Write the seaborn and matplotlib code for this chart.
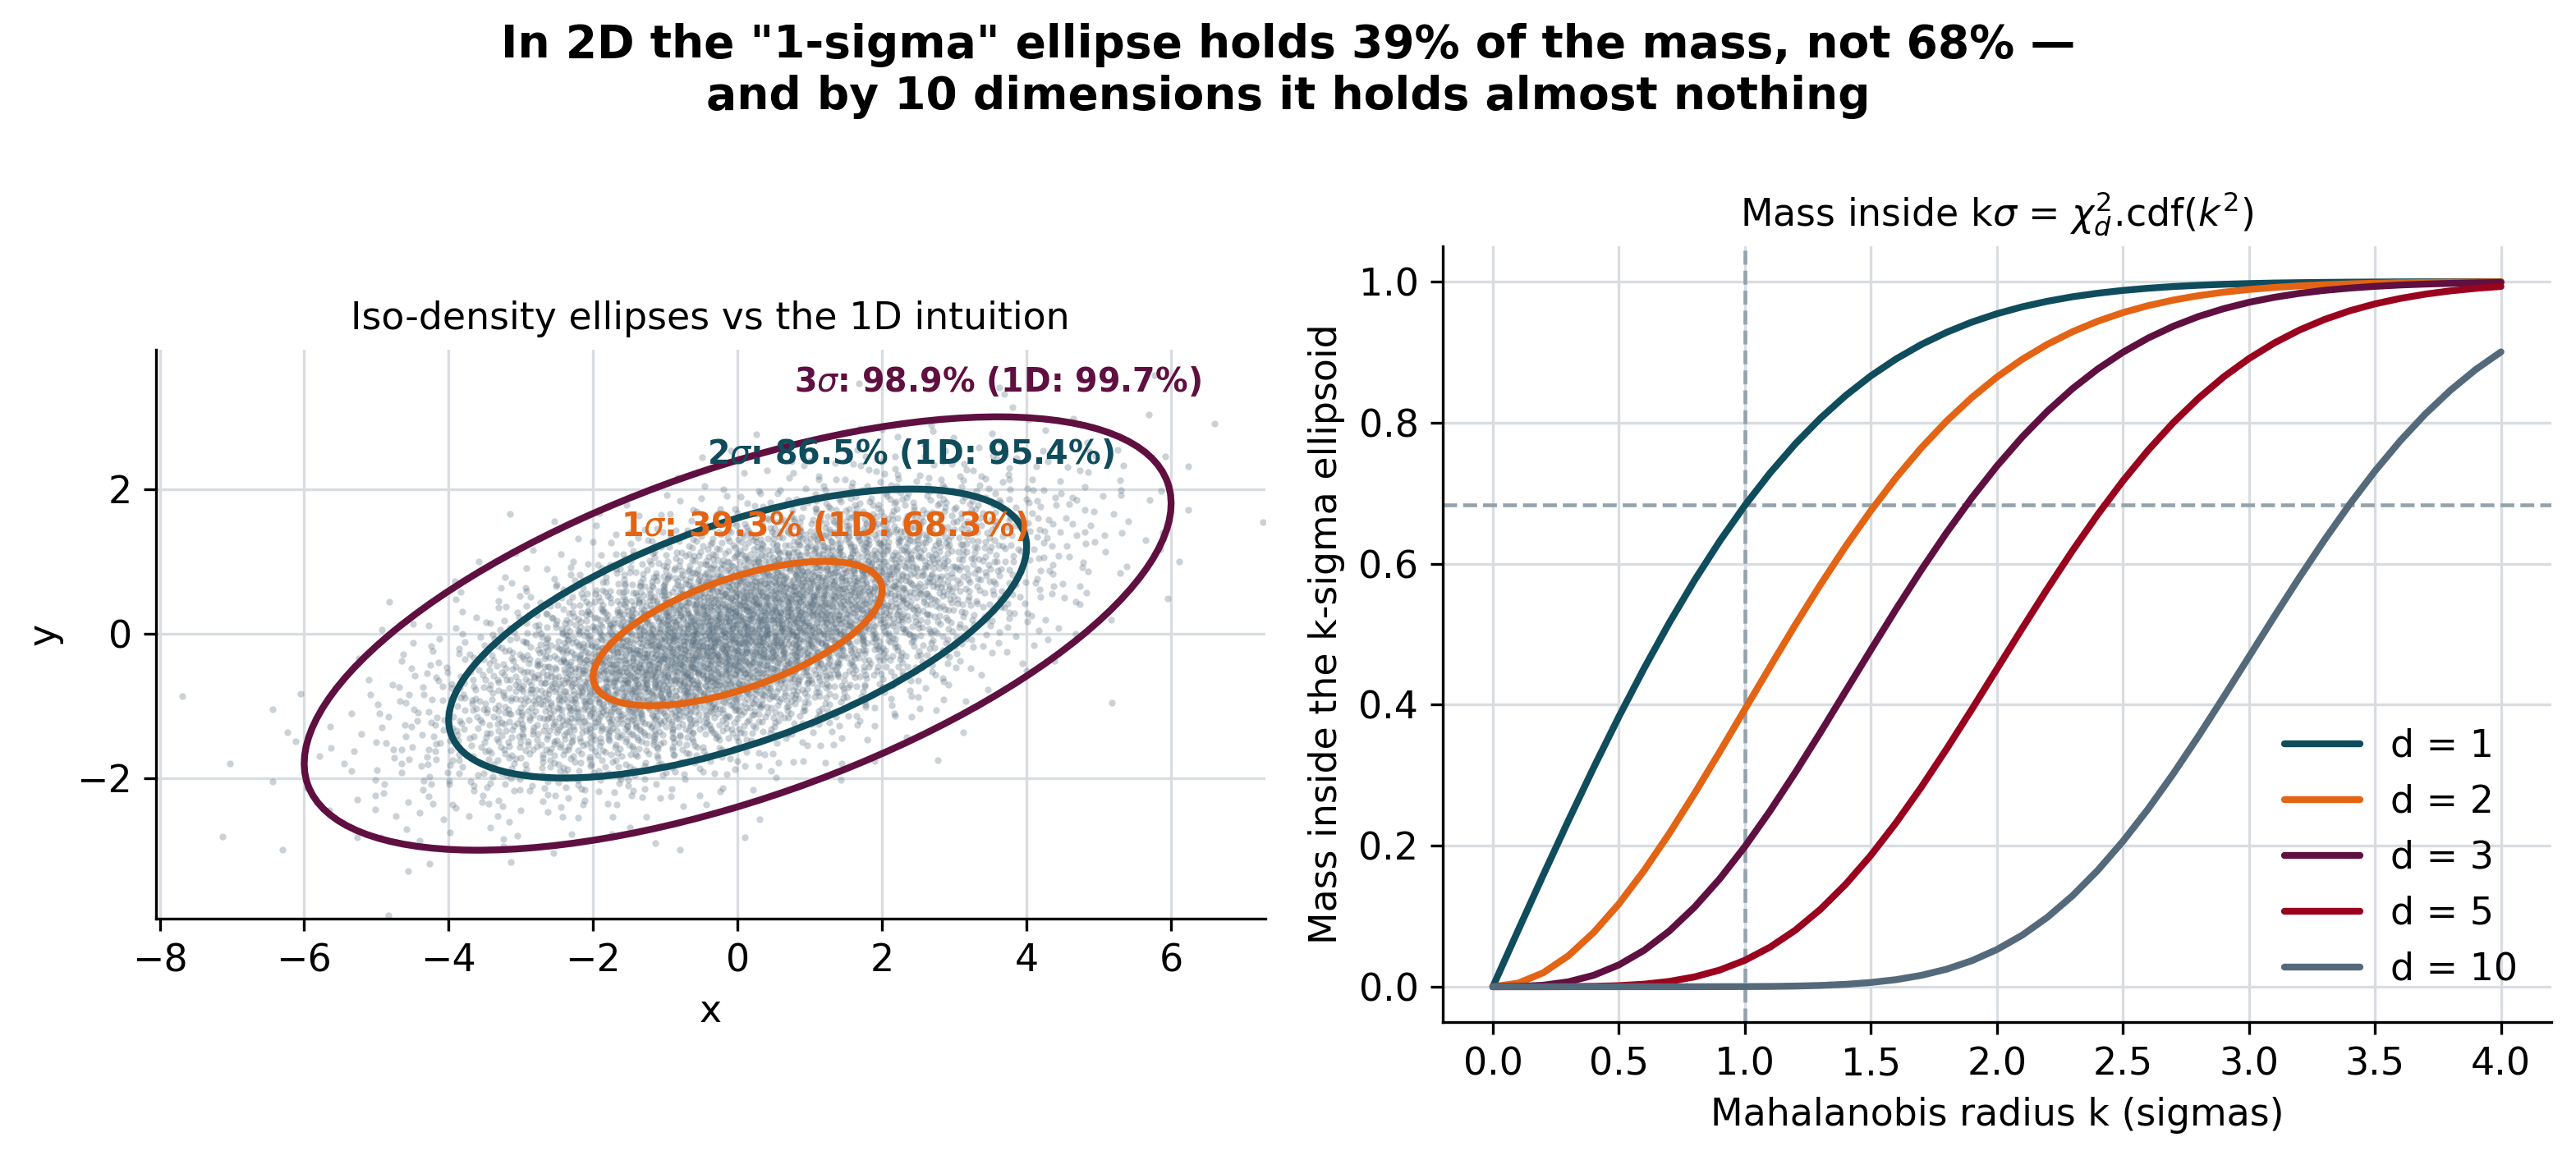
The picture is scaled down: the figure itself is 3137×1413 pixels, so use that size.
import numpy as np
import pandas as pd
import matplotlib
matplotlib.use("Agg")
import matplotlib.pyplot as plt
import seaborn as sns
from matplotlib.patches import Ellipse

# ---------------- data ----------------
K_SIGMAS = [0.0, 0.1, 0.2, 0.3, 0.4, 0.5, 0.6, 0.7, 0.8, 0.9,
            1.0, 1.1, 1.2, 1.3, 1.4, 1.5, 1.6, 1.7, 1.8, 1.9,
            2.0, 2.1, 2.2, 2.3, 2.4, 2.5, 2.6, 2.7, 2.8, 2.9,
            3.0, 3.1, 3.2, 3.3, 3.4, 3.5, 3.6, 3.7, 3.8, 3.9, 4.0]

MASS_D1 = [0.0000, 0.0797, 0.1585, 0.2358, 0.3108, 0.3829, 0.4515, 0.5161, 0.5763, 0.6319,
           0.6827, 0.7287, 0.7699, 0.8064, 0.8385, 0.8664, 0.8904, 0.9109, 0.9281, 0.9426,
           0.9545, 0.9643, 0.9722, 0.9786, 0.9836, 0.9876, 0.9907, 0.9931, 0.9949, 0.9963,
           0.9973, 0.9981, 0.9986, 0.9990, 0.9993, 0.9995, 0.9997, 0.9998, 0.9999, 0.9999, 0.9999]
MASS_D2 = [0.0000, 0.0050, 0.0198, 0.0440, 0.0769, 0.1175, 0.1647, 0.2173, 0.2739, 0.3330,
           0.3935, 0.4539, 0.5133, 0.5704, 0.6247, 0.6753, 0.7220, 0.7643, 0.8021, 0.8355,
           0.8647, 0.8898, 0.9111, 0.9290, 0.9439, 0.9561, 0.9660, 0.9739, 0.9802, 0.9851,
           0.9889, 0.9918, 0.9940, 0.9957, 0.9969, 0.9978, 0.9985, 0.9989, 0.9993, 0.9995, 0.9997]
MASS_D3 = [0.0000, 0.0003, 0.0021, 0.0070, 0.0162, 0.0309, 0.0516, 0.0789, 0.1128, 0.1529,
           0.1987, 0.2494, 0.3038, 0.3608, 0.4193, 0.4778, 0.5355, 0.5911, 0.6439, 0.6932,
           0.7385, 0.7795, 0.8161, 0.8483, 0.8761, 0.8999, 0.9200, 0.9368, 0.9506, 0.9617,
           0.9707, 0.9778, 0.9834, 0.9877, 0.9909, 0.9934, 0.9953, 0.9966, 0.9976, 0.9984, 0.9989]
MASS_D5 = [0.0000, 0.0000, 0.0000, 0.0001, 0.0005, 0.0015, 0.0036, 0.0075, 0.0139, 0.0236,
           0.0374, 0.0561, 0.0801, 0.1098, 0.1453, 0.1864, 0.2326, 0.2831, 0.3370, 0.3932,
           0.4506, 0.5080, 0.5643, 0.6185, 0.6697, 0.7174, 0.7609, 0.8001, 0.8347, 0.8650,
           0.8909, 0.9129, 0.9313, 0.9464, 0.9587, 0.9685, 0.9762, 0.9823, 0.9870, 0.9905, 0.9932]
MASS_D10 = [0.0000, 0.0000, 0.0000, 0.0000, 0.0000, 0.0000, 0.0000, 0.0000, 0.0000, 0.0001,
            0.0002, 0.0004, 0.0009, 0.0018, 0.0034, 0.0060, 0.0100, 0.0161, 0.0248, 0.0368,
            0.0527, 0.0730, 0.0984, 0.1290, 0.1650, 0.2062, 0.2521, 0.3022, 0.3555, 0.4111,
            0.4679, 0.5247, 0.5803, 0.6338, 0.6844, 0.7313, 0.7741, 0.8124, 0.8461, 0.8754, 0.9004]
DIMS = [1, 2, 3, 5, 10]

CLOUD_MEAN = [0.0, 0.0]
CLOUD_COV = [[4.0, 1.2], [1.2, 1.0]]
CLOUD_N = 5000
ELLIPSE_K = [1, 2, 3]
MASS_2D_PCT = [39.3, 86.5, 98.9]
MASS_1D_PCT = [68.3, 95.4, 99.7]
REF_K = 1.0
REF_MASS_1D = 0.683

# ---------------- style ----------------
C_TEAL = "#0f4c5c"
C_ORANGE = "#e36414"
C_PURPLE = "#5f0f40"
C_RED = "#9a031e"
C_SLATE = "#546a7b"
C_GRID = "#d9dde1"
C_REF = "#94a2ab"
DIM_COLORS = [C_TEAL, C_ORANGE, C_PURPLE, C_RED, C_SLATE]
ELL_COLORS = [C_ORANGE, C_TEAL, C_PURPLE]

sns.set_theme(style="ticks")
plt.rcParams.update({
    "font.family": ["DejaVu Sans"],
    "font.size": 11,
    "axes.titlesize": 11,
    "axes.labelsize": 11,
    "xtick.labelsize": 11,
    "ytick.labelsize": 11,
    "legend.fontsize": 11,
    "axes.edgecolor": "black",
    "axes.linewidth": 0.8,
    "xtick.color": "black",
    "ytick.color": "black",
    "xtick.major.size": 3.5,
    "ytick.major.size": 3.5,
    "xtick.major.width": 0.8,
    "ytick.major.width": 0.8,
    "text.color": "black",
    "axes.labelcolor": "black",
    "mathtext.fontset": "dejavusans",
})

fig, (ax1, ax2) = plt.subplots(1, 2, figsize=(10.457, 4.71), dpi=300)
fig.subplots_adjust(left=0.0606, right=0.9904, bottom=0.119, top=0.7875, wspace=0.16)


# ---------------- left: cloud + ellipses ----------------
def radical_inverse(idx, base):
    out = np.zeros(len(idx))
    f = 1.0 / base
    i = idx.copy()
    while np.any(i > 0):
        out += f * (i % base)
        i = i // base
        f /= base
    return out


# deterministic Halton(2,3) sample pushed through Box-Muller
n = np.arange(1, CLOUD_N + 1)
u1 = radical_inverse(n, 2)
u2 = radical_inverse(n, 3)
r = np.sqrt(-2.0 * np.log(u1))
z = np.vstack([r * np.cos(2 * np.pi * u2), r * np.sin(2 * np.pi * u2)])
cov = np.array(CLOUD_COV)
L = np.linalg.cholesky(cov)
pts = (L @ z).T + np.array(CLOUD_MEAN)
cloud = pd.DataFrame({"x": pts[:, 0], "y": pts[:, 1]})

sns.scatterplot(data=cloud, x="x", y="y", s=4, color=C_SLATE, alpha=0.3,
                linewidth=0, ax=ax1, zorder=2)

evals, evecs = np.linalg.eigh(cov)
order = np.argsort(evals)[::-1]
evals, evecs = evals[order], evecs[:, order]
angle = np.degrees(np.arctan2(evecs[1, 0], evecs[0, 0]))
for k, col, m2, m1 in zip(ELLIPSE_K, ELL_COLORS, MASS_2D_PCT, MASS_1D_PCT):
    e = Ellipse(CLOUD_MEAN, width=2 * k * np.sqrt(evals[0]), height=2 * k * np.sqrt(evals[1]),
                angle=angle, fill=False, edgecolor=col, linewidth=2, zorder=3)
    ax1.add_patch(e)
    top_x = CLOUD_MEAN[0] + k * cov[0, 1] / np.sqrt(cov[1, 1])
    top_y = CLOUD_MEAN[1] + k * np.sqrt(cov[1, 1])
    ax1.text(top_x, top_y + 0.25, f"{k}$\\sigma$: {m2:.1f}% (1D: {m1:.1f}%)",
             ha="center", va="bottom", color=col, fontsize=9.5, fontweight="bold", zorder=4)

ax1.set_xlim(-8.05, 7.3)
ax1.set_ylim(-3.95, 3.93)
ax1.set_aspect("equal", adjustable="box")
ax1.grid(True, color=C_GRID, linewidth=0.8)
ax1.set_axisbelow(True)
ax1.set_title("Iso-density ellipses vs the 1D intuition")
ax1.set_xlabel("x")
ax1.set_ylabel("y")
sns.despine(ax=ax1)

# ---------------- right: chi2 cdf curves ----------------
series = [MASS_D1, MASS_D2, MASS_D3, MASS_D5, MASS_D10]
for d, vals, col in zip(DIMS, series, DIM_COLORS):
    sns.lineplot(x=K_SIGMAS, y=vals, color=col, linewidth=2, label=f"d = {d}", ax=ax2)

ax2.axvline(REF_K, color=C_REF, linestyle="--", linewidth=1.1, zorder=1)
ax2.axhline(REF_MASS_1D, color=C_REF, linestyle="--", linewidth=1.1, zorder=1)
ax2.grid(True, color=C_GRID, linewidth=0.8)
ax2.set_axisbelow(True)
ax2.set_xticks([0.0, 0.5, 1.0, 1.5, 2.0, 2.5, 3.0, 3.5, 4.0])
ax2.set_title("Mass inside k$\\sigma$ = $\\chi^2_d$.cdf($k^2$)")
ax2.set_xlabel("Mahalanobis radius k (sigmas)")
ax2.set_ylabel("Mass inside the k-sigma ellipsoid")
ax2.legend(loc="lower right", frameon=False)
sns.despine(ax=ax2)

fig.suptitle('In 2D the "1-sigma" ellipse holds 39% of the mass, not 68% —\n'
             'and by 10 dimensions it holds almost nothing',
             fontsize=13.2, fontweight="bold", y=0.98)

fig.savefig("out.png", dpi=300)
